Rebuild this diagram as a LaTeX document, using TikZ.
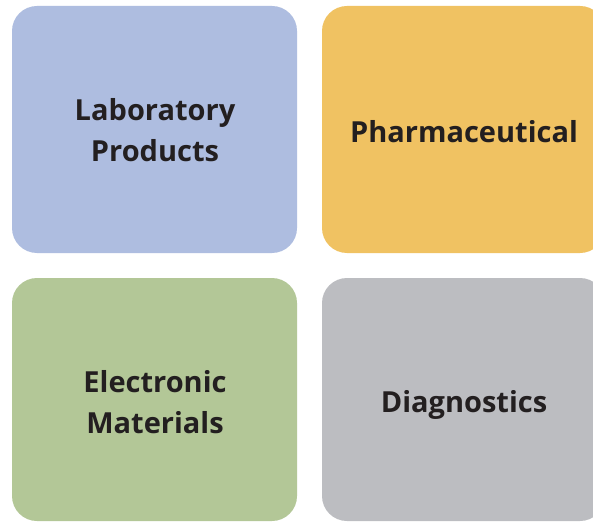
\documentclass[tikz,border=0pt]{standalone}
\usepackage{fontspec}
\setmainfont{Open Sans}
\definecolor{cblue}{HTML}{AEBDE0}
\definecolor{corange}{HTML}{F0C262}
\definecolor{cgreen}{HTML}{B3C797}
\definecolor{cgray}{HTML}{BCBDC1}
\definecolor{ctext}{HTML}{231F20}
\begin{document}
\begin{tikzpicture}[x=1pt,y=-1pt,
  tile/.style={rounded corners=25pt},
  lbl/.style={text=ctext, font=\fontsize{29}{41}\selectfont\bfseries, align=center, inner sep=0pt}]
\useasboundingbox (0,0) rectangle (593,521);
\clip (0,0) rectangle (593,521);
\fill[white] (0,0) rectangle (593,521);
\fill[tile, cblue] (12,6) rectangle (297,253);
\fill[tile, corange] (322,6) rectangle (605,253);
\fill[tile, cgreen] (12,278) rectangle (297,521);
\fill[tile, cgray] (322,278) rectangle (605,521);
\node[lbl] (lab) at (155,130) {Laboratory\\Products};
\node[lbl, anchor=base] (pha) at (464,143) {Pharmaceutical};
\node[lbl] (ele) at (155,402) {Electronic\\Materials};
\node[lbl, anchor=base] (dia) at (464,412) {Diagnostics};
\end{tikzpicture}
\end{document}
